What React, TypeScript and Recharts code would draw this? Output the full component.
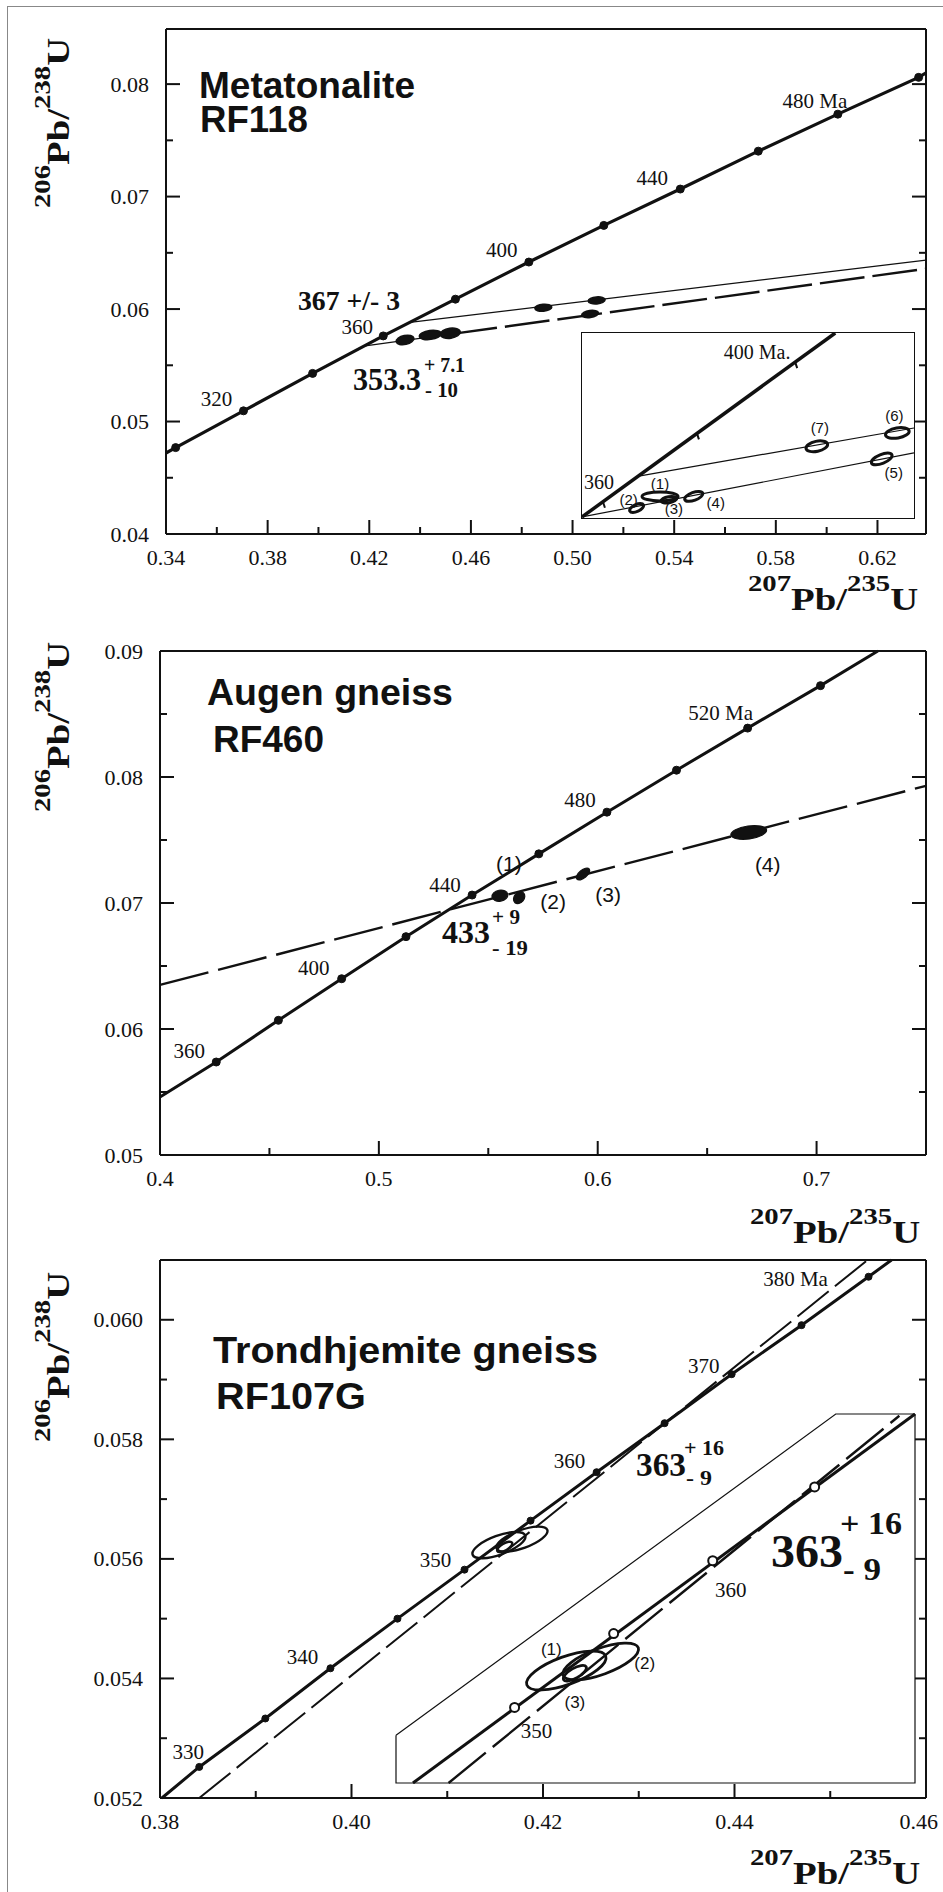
import React from 'react';
import { ComposedChart, Line, Scatter, Area, XAxis, YAxis } from 'recharts';

// ---- Metatonalite RF118 ----
const p1Ages = [300, 320, 340, 360, 380, 400, 420, 440, 460, 480, 500];
const p1AgeText = ['', '320', '', '360', '', '400', '', '440', '', '480 Ma', ''];
const p1ConcX = [0.3438, 0.3705, 0.3977, 0.4255, 0.4539, 0.4828, 0.5123, 0.5424, 0.5731, 0.6044, 0.6362];
const p1ConcY = [0.04768, 0.05095, 0.05428, 0.05761, 0.06088, 0.06418, 0.06744, 0.07067, 0.07404, 0.07733, 0.0806];
const p1CurveEndX = [0.34, 0.6391];
const p1CurveEndY = [0.0472, 0.081];
const p1UpperX = [0.4368, 0.6391];
const p1UpperY = [0.05883, 0.06435];
const p1LowerX = [0.4184, 0.4527, 0.6391];
const p1LowerY = [0.05672, 0.05779, 0.06358];
const p1SpotId = ['a', 'b', 'c', 'd', 'e', 'f'];
const p1SpotX = [0.4341, 0.444, 0.4519, 0.4885, 0.5095, 0.5069];
const p1SpotY = [0.05725, 0.0577, 0.05785, 0.06012, 0.06077, 0.05956];
const p1XTicks = [0.34, 0.36, 0.38, 0.4, 0.42, 0.44, 0.46, 0.48, 0.5, 0.52, 0.54, 0.56, 0.58, 0.6, 0.62];
const p1XLabels = ['0.34', '0.38', '0.42', '0.46', '0.50', '0.54', '0.58', '0.62'];
const p1YTicks = [0.04, 0.045, 0.05, 0.055, 0.06, 0.065, 0.07, 0.075, 0.08];
const p1YLabels = ['0.04', '0.05', '0.06', '0.07', '0.08'];

// inset of RF118
const in1ConcX = [0.4206, 0.492];
const in1ConcY = [0.05643, 0.06528];
const in1TickX = [0.4265, 0.453, 0.4807];
const in1TickY = [0.05716, 0.06045, 0.06388];
const in1TickText = ['360', '', '400 Ma.'];
const in1UpperX = [0.437, 0.5142];
const in1UpperY = [0.05841, 0.06071];
const in1LowerX = [0.4206, 0.5142];
const in1LowerY = [0.05643, 0.05951];
const in1EllId = ['(1)', '(2)', '(3)', '(4)', '(5)', '(6)', '(7)'];
const in1EllX = [0.4426, 0.436, 0.4451, 0.4521, 0.5051, 0.5095, 0.4868];
const in1EllY = [0.05742, 0.05686, 0.05726, 0.05742, 0.05922, 0.06047, 0.05983];

// ---- Augen gneiss RF460 ----
const p2Ages = [360, 380, 400, 420, 440, 460, 480, 500, 520, 540];
const p2AgeText = ['360', '', '400', '', '440', '', '480', '', '520 Ma', ''];
const p2ConcX = [0.4257, 0.4541, 0.483, 0.5124, 0.5426, 0.5731, 0.6042, 0.636, 0.6685, 0.7018];
const p2ConcY = [0.05738, 0.06069, 0.06399, 0.06733, 0.07063, 0.0739, 0.07721, 0.08054, 0.08388, 0.08725];
const p2CurveEndX = [0.4, 0.728];
const p2CurveEndY = [0.0546, 0.09];
const p2DiscX = [0.4, 0.75];
const p2DiscY = [0.0635, 0.0793];
const p2SpotId = ['(1)', '(2)', '(3)', '(4)'];
const p2SpotX = [0.5553, 0.5641, 0.5933, 0.669];
const p2SpotY = [0.07058, 0.07042, 0.0723, 0.0756];
const p2XTicks = [0.4, 0.45, 0.5, 0.55, 0.6, 0.65, 0.7];
const p2XLabels = ['0.4', '0.5', '0.6', '0.7'];
const p2YTicks = [0.05, 0.055, 0.06, 0.065, 0.07, 0.075, 0.08, 0.085, 0.09];
const p2YLabels = ['0.05', '0.06', '0.07', '0.08', '0.09'];

// ---- Trondhjemite gneiss RF107G ----
const p3Ages = [330, 335, 340, 345, 350, 355, 360, 365, 370, 375, 380];
const p3AgeText = ['330', '', '340', '', '350', '', '360', '', '370', '', '380 Ma'];
const p3ConcX = [0.3841, 0.391, 0.3978, 0.4048, 0.4118, 0.4187, 0.4256, 0.4327, 0.4397, 0.447, 0.454];
const p3ConcY = [0.05252, 0.05333, 0.05417, 0.055, 0.05582, 0.05664, 0.05745, 0.05827, 0.05909, 0.05991, 0.06072];
const p3CurveEndX = [0.3802, 0.4564];
const p3CurveEndY = [0.052, 0.061];
const p3DiscX = [0.3841, 0.4539];
const p3DiscY = [0.052, 0.061];
const p3EllId = ['(1)', '(2)', '(3)'];
const p3EllX = [0.4154, 0.4178, 0.416];
const p3EllY = [0.05623, 0.05633, 0.0562];
const p3XTicks = [0.38, 0.39, 0.4, 0.41, 0.42, 0.43, 0.44, 0.45, 0.46];
const p3XLabels = ['0.38', '0.40', '0.42', '0.44', '0.46'];
const p3YTicks = [0.052, 0.053, 0.054, 0.055, 0.056, 0.057, 0.058, 0.059, 0.06];
const p3YLabels = ['0.052', '0.054', '0.056', '0.058', '0.060'];

// inset of RF107G
const in3ConcX = [0.40472, 0.43969];
const in3ConcY = [0.05498, 0.05908];
const in3DiscX = [0.4072, 0.4386];
const in3DiscY = [0.05498, 0.05906];
const in3AgeMin = 350;
const in3AgeMax = 365;
const in3PanelX = [0.40354, 0.43417, 0.43969];
const in3PanelY = [0.05551, 0.05908, 0.05908];
const in3EdgeX = [0.40354, 0.40354, 0.43969, 0.43969];
const in3EdgeY = [0.05551, 0.05498, 0.05498, 0.05908];

const INK = '#111';
const SERIF = "'Liberation Serif', 'Times New Roman', serif";
const SANS = "'Liberation Sans', Arial, sans-serif";
const FRAME = { stroke: INK, strokeWidth: 2 };

const zip = (xs: number[], ys: number[]) => xs.map((x, i) => ({ x, y: ys[i] }));
const withEnds = (ex: number[], ey: number[], xs: number[], ys: number[]) => [
  { x: ex[0], y: ey[0] },
  ...zip(xs, ys),
  { x: ex[1], y: ey[1] },
];
const dots = (xs: number[], ys: number[], ages: number[], text: string[]) =>
  xs.map((x, i) => ({ x, y: ys[i], age: ages[i], label: text[i] }));
const spots = (xs: number[], ys: number[], ids: string[]) => xs.map((x, i) => ({ x, y: ys[i], id: ids[i] }));

// label offsets (px) and ellipse sizes [rx, ry, angle]
const p1LabelOff: Record<string, number[]> = { '320': [-27, -12], '360': [-26, -9], '400': [-27, -12], '440': [-28, -11], '480 Ma': [-23, -13] };
const p2LabelOff: Record<string, number[]> = { '360': [-27, -11], '400': [-28, -11], '440': [-27, -10], '480': [-27, -12], '520 Ma': [-27, -15] };
const p3LabelOff: Record<string, number[]> = { '330': [-11, -15], '340': [-28, -11], '350': [-29, -10], '360': [-27, -11], '370': [-28, -8], '380 Ma': [-73, 2] };
const in1LabelOff: Record<string, number[]> = { '360': [-4, -19], '400 Ma.': [-38, -10] };
const in3LabelOff: Record<string, number[]> = { '350': [22, 24], '360': [18, 29] };

const p1SpotSize: Record<string, number[]> = { a: [9, 4.5, -12], b: [11, 4.5, -8], c: [10, 5, -8], d: [8.5, 3.5, -5], e: [8.5, 3.5, -5], f: [8.5, 3.5, -8] };
const in1EllSize: Record<string, number[]> = { '(1)': [18, 4.5, 0], '(2)': [7.5, 3.5, -25], '(3)': [8, 3, -10], '(4)': [9.5, 4, -20], '(5)': [11, 4.5, -22], '(6)': [12, 5, -10], '(7)': [11, 5, -12] };
const in1EllLab: Record<string, number[]> = { '(1)': [0, -13], '(2)': [-8, -8], '(3)': [5, 9], '(4)': [22, 6], '(5)': [12, 14], '(6)': [-3, -17], '(7)': [3, -19] };
const p2SpotSize: Record<string, number[]> = { '(1)': [8, 5.5, -10], '(2)': [6.5, 5, -50], '(3)': [8, 4, -40], '(4)': [18, 6.5, -8] };
const p2SpotLab: Record<string, number[]> = { '(1)': [9, -32], '(2)': [34, 4], '(3)': [25, 20], '(4)': [19, 32] };
const p3EllSize: Record<string, number[]> = { '(1)': [28, 9.5, -20], '(2)': [27, 9, -20], '(3)': [8.5, 3.5, -30] };
const in3EllSize: Record<string, number[]> = { '(1)': [42, 14, -20], '(2)': [40, 13, -20], '(3)': [13, 5, -30] };
const in3EllLab: Record<string, number[]> = { '(1)': [-15, -22], '(2)': [44, 1], '(3)': [0, 29] };

function axisTick(side: 'bottom' | 'top' | 'left' | 'right', labels: string[]) {
  const majors = labels.map(Number);
  return (p: any) => {
    const v = Number(p.payload?.value);
    const k = majors.findIndex((m) => Math.abs(m - v) < 1e-7);
    const len = k >= 0 ? 14 : 7;
    const x = p.x;
    const y = p.y;
    const ln =
      side === 'bottom' ? [x, y, x, y - len] : side === 'top' ? [x, y, x, y + len] : side === 'left' ? [x, y, x + len, y] : [x, y, x - len, y];
    // keep the last label inside the page
    const atEdge = x > 915;
    return (
      <g>
        <line x1={ln[0]} y1={ln[1]} x2={ln[2]} y2={ln[3]} stroke={INK} strokeWidth={2} />
        {k >= 0 && side === 'bottom' && (
          <text x={atEdge ? 938 : x} y={y + 31} textAnchor={atEdge ? 'end' : 'middle'} fontFamily={SERIF} fontSize={22} fill={INK}>
            {labels[k]}
          </text>
        )}
        {k >= 0 && side === 'left' && (
          <text x={x - 17} y={y + 7.5} textAnchor="end" fontFamily={SERIF} fontSize={22} fill={INK}>
            {labels[k]}
          </text>
        )}
      </g>
    );
  };
}

function dotShape(r: number, open: boolean, offsets: Record<string, number[]>, fs = 21) {
  return (p: any) => {
    const { cx, cy, payload } = p;
    const off = offsets[payload.label];
    return (
      <g>
        <circle cx={cx} cy={cy} r={r} fill={open ? '#fff' : INK} stroke={INK} strokeWidth={open ? 2 : 1} />
        {payload.label && off && (
          <text x={cx + off[0]} y={cy + off[1] + fs * 0.33} textAnchor="middle" fontFamily={SERIF} fontSize={fs} fill={INK}>
            {payload.label}
          </text>
        )}
      </g>
    );
  };
}

function tickShape(offsets: Record<string, number[]>) {
  return (p: any) => {
    const { cx, cy, payload } = p;
    const off = offsets[payload.label];
    return (
      <g>
        <line x1={cx} y1={cy} x2={cx + 2} y2={cy + 6} stroke={INK} strokeWidth={2} />
        {payload.label && off && (
          <text x={cx + off[0]} y={cy + off[1] + 6.5} textAnchor="middle" fontFamily={SERIF} fontSize={20} fill={INK}>
            {payload.label}
          </text>
        )}
      </g>
    );
  };
}

function ellShape(sizes: Record<string, number[]>, filled: boolean, sw: number, labs?: Record<string, number[]>, fs = 15) {
  return (p: any) => {
    const { cx, cy, payload } = p;
    const [rx, ry, a] = sizes[payload.id];
    const off = labs ? labs[payload.id] : null;
    return (
      <g>
        <ellipse cx={cx} cy={cy} rx={rx} ry={ry} transform={`rotate(${a} ${cx} ${cy})`} fill={filled ? INK : 'none'} stroke={INK} strokeWidth={sw} />
        {off && (
          <text x={cx + off[0]} y={cy + off[1] + fs * 0.36} textAnchor="middle" fontFamily={SANS} fontSize={fs} fill={INK}>
            {payload.id}
          </text>
        )}
      </g>
    );
  };
}

const lineProps = { dataKey: 'y', dot: false, activeDot: false, isAnimationActive: false, stroke: INK } as const;

function Panel(props: {
  top: number;
  height: number;
  mb: number;
  axTop: number;
  left: number;
  xd: [number, number];
  yd: [number, number];
  xt: number[];
  xl: string[];
  yt: number[];
  yl: string[];
  children: React.ReactNode;
}) {
  const { top, height, mb, axTop, left, xd, yd, xt, xl, yt, yl, children } = props;
  return (
    <div style={{ position: 'absolute', left: 0, top }}>
      <ComposedChart width={943} height={height} margin={{ top: 0, right: 0, bottom: mb, left: 0 }}>
        <XAxis dataKey="x" type="number" domain={xd} ticks={xt} interval={0} height={60} tickSize={0} tickMargin={0} tickLine={false} axisLine={FRAME} tick={axisTick('bottom', xl)} />
        <XAxis xAxisId="top" orientation="top" type="number" domain={xd} ticks={xt} interval={0} height={axTop} allowDataOverflow tickSize={0} tickMargin={0} tickLine={false} axisLine={FRAME} tick={axisTick('top', xl)} />
        <YAxis dataKey="y" type="number" domain={yd} ticks={yt} interval={0} width={left} tickSize={0} tickMargin={0} tickLine={false} axisLine={FRAME} tick={axisTick('left', yl)} />
        <YAxis yAxisId="right" orientation="right" type="number" domain={yd} ticks={yt} interval={0} width={17} allowDataOverflow tickSize={0} tickMargin={0} tickLine={false} axisLine={FRAME} tick={axisTick('right', yl)} />
        {children}
      </ComposedChart>
    </div>
  );
}

const Ratio = ({ num, den }: { num: string; den: string }) => (
  <text fontFamily={SERIF} fontWeight="bold" fontSize={31} fill={INK}>
    <tspan fontSize={23} dy={-19}>{num}</tspan>
    <tspan dy={19}>Pb/</tspan>
    <tspan fontSize={23} dy={-19}>{den}</tspan>
    <tspan dy={19}>U</tspan>
  </text>
);

const Txt = ({ x, y, s, w, tl, sans, children }: { x: number; y: number; s: number; w?: string; tl?: number; sans?: boolean; children: React.ReactNode }) => (
  <text x={x} y={y} fontFamily={sans ? SANS : SERIF} fontWeight={w || 'bold'} fontSize={s} fill={INK} textLength={tl} lengthAdjust={tl ? 'spacingAndGlyphs' : undefined}>
    {children}
  </text>
);

export default function App() {
  const p1Dots = dots(p1ConcX, p1ConcY, p1Ages, p1AgeText);
  const p2Dots = dots(p2ConcX, p2ConcY, p2Ages, p2AgeText);
  const p3Dots = dots(p3ConcX, p3ConcY, p3Ages, p3AgeText);
  const in3Dots = p3Dots.filter((d) => d.age >= in3AgeMin && d.age <= in3AgeMax);

  return (
    <div style={{ position: 'absolute', left: 0, top: 0, width: 943, height: 1892, background: '#fff', overflow: 'hidden' }}>
      <div style={{ position: 'absolute', left: 7, top: 6, width: 940, height: 1890, borderLeft: '1.5px solid #888', borderTop: '1.5px solid #888' }} />

      <Panel top={0} height={620} mb={26} axTop={29} left={166} xd={[0.34, 0.6391]} yd={[0.04, 0.0849]} xt={p1XTicks} xl={p1XLabels} yt={p1YTicks} yl={p1YLabels}>
        <Line data={withEnds(p1CurveEndX, p1CurveEndY, p1ConcX, p1ConcY)} {...lineProps} strokeWidth={3.2} />
        <Line data={zip(p1UpperX, p1UpperY)} {...lineProps} strokeWidth={1.2} />
        <Line data={zip(p1LowerX.slice(0, 2), p1LowerY.slice(0, 2))} {...lineProps} strokeWidth={1.2} />
        <Line data={zip(p1LowerX.slice(1), p1LowerY.slice(1))} {...lineProps} strokeWidth={2.4} strokeDasharray="45 8" />
        <Scatter data={p1Dots} dataKey="y" shape={dotShape(4, false, p1LabelOff)} isAnimationActive={false} />
        <Scatter data={spots(p1SpotX, p1SpotY, p1SpotId)} dataKey="y" shape={ellShape(p1SpotSize, true, 1.5)} isAnimationActive={false} />
      </Panel>

      <div style={{ position: 'absolute', left: 582, top: 333, width: 332, height: 185, background: '#fff', outline: `1.5px solid ${INK}` }}>
        <ComposedChart width={332} height={185} margin={{ top: 0, right: 0, bottom: 0, left: 0 }}>
          <XAxis dataKey="x" type="number" domain={[0.4206, 0.5142]} hide />
          <YAxis dataKey="y" type="number" domain={[0.05638, 0.06528]} hide />
          <Line data={zip(in1ConcX, in1ConcY)} {...lineProps} strokeWidth={3.5} />
          <Line data={zip(in1UpperX, in1UpperY)} {...lineProps} strokeWidth={1.2} />
          <Line data={zip(in1LowerX, in1LowerY)} {...lineProps} strokeWidth={1.2} />
          <Scatter data={dots(in1TickX, in1TickY, [360, 380, 400], in1TickText)} dataKey="y" shape={tickShape(in1LabelOff)} isAnimationActive={false} />
          <Scatter data={spots(in1EllX, in1EllY, in1EllId)} dataKey="y" shape={ellShape(in1EllSize, false, 3, in1EllLab, 15)} isAnimationActive={false} />
        </ComposedChart>
      </div>

      <Panel top={620} height={640} mb={45} axTop={31} left={160} xd={[0.4, 0.75]} yd={[0.05, 0.09]} xt={p2XTicks} xl={p2XLabels} yt={p2YTicks} yl={p2YLabels}>
        <Line data={withEnds(p2CurveEndX, p2CurveEndY, p2ConcX, p2ConcY)} {...lineProps} strokeWidth={3} />
        <Line data={zip(p2DiscX, p2DiscY)} {...lineProps} strokeWidth={2.4} strokeDasharray="50 10" />
        <Scatter data={p2Dots} dataKey="y" shape={dotShape(4, false, p2LabelOff)} isAnimationActive={false} />
        <Scatter data={spots(p2SpotX, p2SpotY, p2SpotId)} dataKey="y" shape={ellShape(p2SpotSize, true, 1.2, p2SpotLab, 21)} isAnimationActive={false} />
      </Panel>

      <Panel top={1240} height={652} mb={34} axTop={20} left={160} xd={[0.38, 0.46]} yd={[0.052, 0.061]} xt={p3XTicks} xl={p3XLabels} yt={p3YTicks} yl={p3YLabels}>
        <Line data={withEnds(p3CurveEndX, p3CurveEndY, p3ConcX, p3ConcY)} {...lineProps} strokeWidth={3} />
        <Line data={zip(p3DiscX, p3DiscY)} {...lineProps} strokeWidth={2} strokeDasharray="40 8" />
        <Scatter data={p3Dots} dataKey="y" shape={dotShape(3.5, false, p3LabelOff)} isAnimationActive={false} />
        <Scatter data={spots(p3EllX, p3EllY, p3EllId)} dataKey="y" shape={ellShape(p3EllSize, false, 2.4)} isAnimationActive={false} />
      </Panel>

      <div style={{ position: 'absolute', left: 395, top: 1413 }}>
        <ComposedChart width={521} height={371} margin={{ top: 1, right: 1, bottom: 1, left: 1 }}>
          <XAxis dataKey="x" type="number" domain={[0.40354, 0.43969]} hide />
          <YAxis dataKey="y" type="number" domain={[0.05498, 0.05908]} hide />
          <Area data={zip(in3PanelX, in3PanelY)} dataKey="y" baseValue="dataMin" type="linear" fill="#fff" fillOpacity={1} stroke={INK} strokeWidth={1.2} isAnimationActive={false} dot={false} activeDot={false} />
          <Line data={zip(in3EdgeX, in3EdgeY)} {...lineProps} strokeWidth={1.2} />
          <Line data={zip(in3ConcX, in3ConcY)} {...lineProps} strokeWidth={3} />
          <Line data={zip(in3DiscX, in3DiscY)} {...lineProps} strokeWidth={2.4} strokeDasharray="48 9" />
          <Scatter data={in3Dots} dataKey="y" shape={dotShape(4.5, true, in3LabelOff)} isAnimationActive={false} />
          <Scatter data={spots(p3EllX, p3EllY, p3EllId)} dataKey="y" shape={ellShape(in3EllSize, false, 2.8, in3EllLab, 17)} isAnimationActive={false} />
        </ComposedChart>
      </div>

      <svg width={943} height={1892} style={{ position: 'absolute', left: 0, top: 0, pointerEvents: 'none' }}>
        {/* RF118 */}
        <Txt x={199} y={98} s={37} sans tl={216}>Metatonalite</Txt>
        <Txt x={200} y={132} s={37} sans tl={108}>RF118</Txt>
        <g transform="translate(69 208) rotate(-90) scale(1.25 1)"><Ratio num="206" den="238" /></g>
        <g transform="translate(748 610) scale(1.25 1)"><Ratio num="207" den="235" /></g>
        <Txt x={298} y={310} s={27} tl={102}>367 +/- 3</Txt>
        <Txt x={353} y={390} s={31} tl={68}>353.3</Txt>
        <Txt x={424} y={372} s={21} tl={41}>+ 7.1</Txt>
        <Txt x={425} y={397} s={21} tl={33}>- 10</Txt>

        {/* RF460 */}
        <Txt x={207} y={705} s={37} sans tl={246}>Augen gneiss</Txt>
        <Txt x={213} y={752} s={37} sans tl={111}>RF460</Txt>
        <g transform="translate(69 812) rotate(-90) scale(1.25 1)"><Ratio num="206" den="238" /></g>
        <g transform="translate(750 1243) scale(1.25 1)"><Ratio num="207" den="235" /></g>
        <Txt x={442} y={943} s={31} tl={48}>433</Txt>
        <Txt x={492} y={924} s={21} tl={28}>+ 9</Txt>
        <Txt x={492} y={955} s={21} tl={36}>- 19</Txt>

        {/* RF107G */}
        <Txt x={213} y={1363} s={37} sans tl={385}>Trondhjemite gneiss</Txt>
        <Txt x={216} y={1409} s={37} sans tl={150}>RF107G</Txt>
        <g transform="translate(69 1442) rotate(-90) scale(1.25 1)"><Ratio num="206" den="238" /></g>
        <g transform="translate(750 1884) scale(1.25 1)"><Ratio num="207" den="235" /></g>
        <Txt x={636} y={1476} s={33} tl={50}>363</Txt>
        <Txt x={684} y={1455} s={21} tl={40}>+ 16</Txt>
        <Txt x={686} y={1485} s={21} tl={26}>- 9</Txt>
        <Txt x={771} y={1567} s={46} tl={72}>363</Txt>
        <Txt x={840} y={1534} s={31} tl={62}>+ 16</Txt>
        <Txt x={843} y={1580} s={31} tl={38}>- 9</Txt>
      </svg>
    </div>
  );
}
